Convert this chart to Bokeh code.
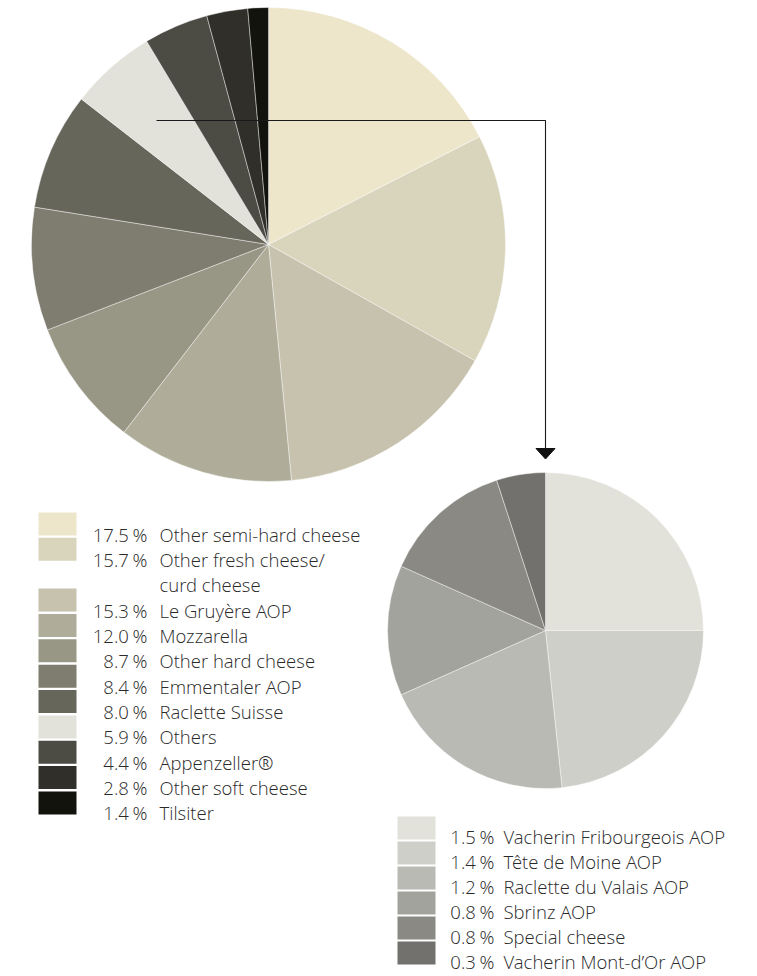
import numpy as np
from bokeh.plotting import figure
from bokeh.models import Range1d, ColumnDataSource
from bokeh.embed import file_html
from bokeh.resources import INLINE
from bokeh.core.properties import value

# ---------------- data ----------------
main_labels = ["Other semi-hard cheese", "Other fresh cheese/\ncurd cheese", "Le Gruyère AOP",
               "Mozzarella", "Other hard cheese", "Emmentaler AOP", "Raclette Suisse",
               "Others", "Appenzeller®", "Other soft cheese", "Tilsiter"]
main_values = [17.5, 15.7, 15.3, 12.0, 8.7, 8.4, 8.0, 5.9, 4.4, 2.8, 1.4]
main_colors = ["#EDE6CB", "#D9D5BD", "#C6C2AD", "#AFAD9A", "#989786", "#7F7D6F",
               "#67665A", "#E2E2DB", "#4D4C44", "#302F29", "#13130E"]

sub_labels = ["Vacherin Fribourgeois AOP", "Tête de Moine AOP", "Raclette du Valais AOP",
              "Sbrinz AOP", "Special cheese", "Vacherin Mont-d’Or AOP"]
sub_values = [1.5, 1.4, 1.2, 0.8, 0.8, 0.3]
sub_colors = ["#E2E2DB", "#CFCFC9", "#BABAB5", "#A3A39E", "#8A8984", "#72716D"]

FONT = value("'Open Sans Light', 'Roboto Light'")
FSIZE = "18.5px"
TXT = "#2a2a2a"

H = 976
# page coordinates (y downwards) -> data y = -page_y
p = figure(width=757, height=H, output_backend="svg", toolbar_location=None,
           x_range=Range1d(0, 757), y_range=Range1d(-H, 0),
           x_axis_location=None, y_axis_location=None, min_border=0)
p.grid.visible = False
p.outline_line_color = None
p.background_fill_color = "white"


def pie(cx, cy, r, vals, colors):
    v = np.array(vals, dtype=float)
    frac = v / v.sum()
    cum = np.concatenate([[0], np.cumsum(frac)])
    src = ColumnDataSource(dict(
        x=[cx] * len(v), y=[-cy] * len(v),
        start=np.pi / 2 - 2 * np.pi * cum[1:],
        end=np.pi / 2 - 2 * np.pi * cum[:-1],
        color=colors))
    p.wedge(x="x", y="y", radius=r, start_angle="start", end_angle="end",
            fill_color="color", line_color="white", line_width=0.6, line_alpha=0.7,
            source=src)


pie(268, 244, 237, main_values, main_colors)
pie(545, 630, 158, sub_values, sub_colors)

# connector from "Others" slice to the detail pie
p.line(x=[156, 545, 545], y=[-120, -120, -449], line_color="#1a1a1a", line_width=1.1)
p.patch(x=[535.5, 554.5, 545], y=[-448, -448, -458.5], fill_color="#111111", line_color="#111111")


def pct(v):
    return f"{v:.1f}\u2009%"


def legend(vals, labels, colors, box_l, box_r, top0, step, pct_x, lab_x, base):
    bx_t, bx_b, bx_c = [], [], []
    px, py, pt = [], [], []
    lx, ly, lt = [], [], []
    row = 0
    for v, lab, c in zip(vals, labels, colors):
        top = top0 + step * row
        bx_t.append(-top)
        bx_b.append(-(top + 23))
        bx_c.append(c)
        px.append(pct_x)
        py.append(-(top + base))
        pt.append(pct(v))
        for line in lab.split("\n"):
            t = top0 + step * row
            lx.append(lab_x)
            ly.append(-(t + base))
            lt.append(line)
            row += 1
    p.quad(left=box_l, right=box_r, top=bx_t, bottom=bx_b, fill_color=bx_c, line_color=None)
    p.text(x=px, y=py, text=pt, text_align="right", text_baseline="alphabetic",
           text_font=FONT, text_font_size=FSIZE, text_color=TXT)
    p.text(x=lx, y=ly, text=lt, text_align="left", text_baseline="alphabetic",
           text_font=FONT, text_font_size=FSIZE, text_color=TXT)


legend(main_values, main_labels, main_colors, 38, 76, 512, 25.36, 147, 159, 21.5)
legend(sub_values, sub_labels, sub_colors, 397, 435, 816, 25.0, 494, 503, 20)

open("out.html", "w").write(file_html(p, INLINE))
